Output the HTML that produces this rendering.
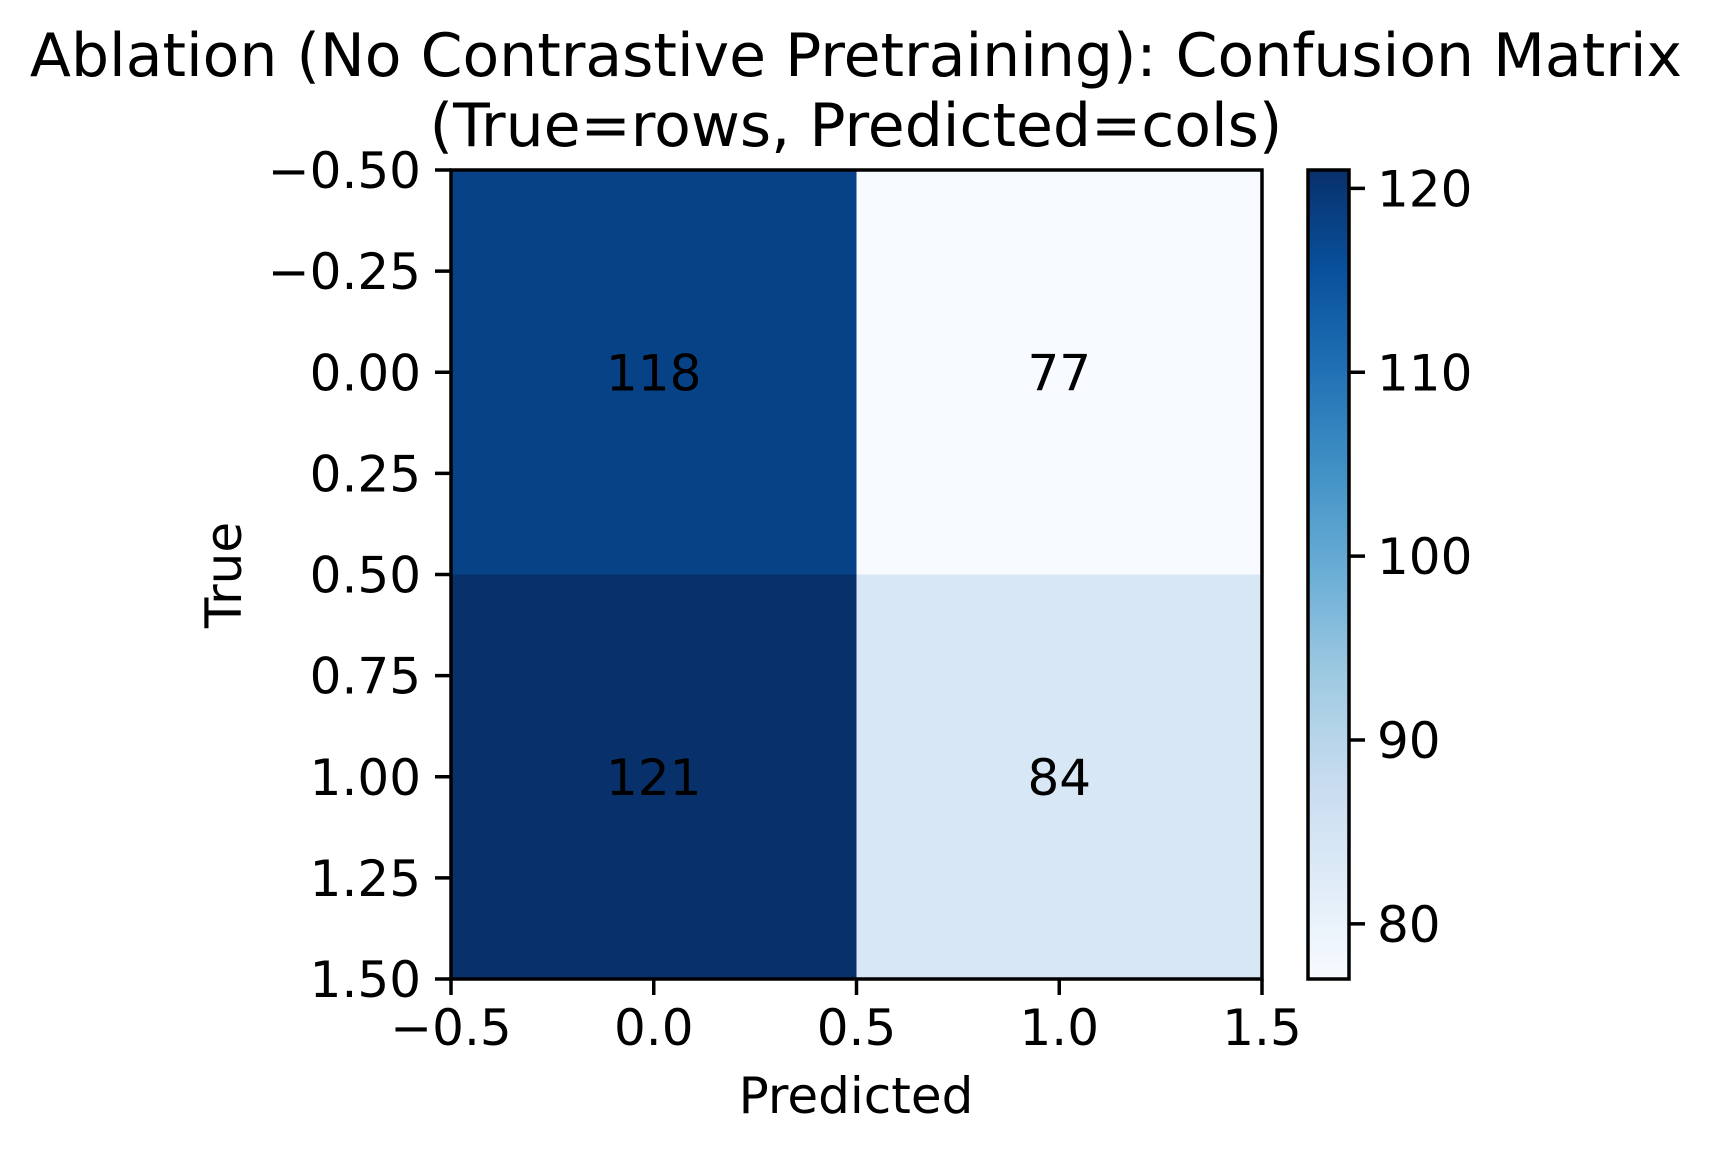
<!DOCTYPE html>
<html><head><meta charset="utf-8"><style>
html,body{margin:0;padding:0;background:#fff}
svg text{font-family:"DejaVu Sans","Liberation Sans",sans-serif;fill:#000}
</style></head><body>
<svg id="chart" width="1712" height="1152" viewBox="0 0 1712 1152" xmlns="http://www.w3.org/2000/svg">
<text x="856" y="76" font-size="60" text-anchor="middle">Ablation (No Contrastive Pretraining): Confusion Matrix</text>
<text x="856" y="146" font-size="60" text-anchor="middle">(True=rows, Predicted=cols)</text>
<text x="856" y="1113" font-size="50" text-anchor="middle">Predicted</text>
<text transform="translate(241,575) rotate(-90)" font-size="50" text-anchor="middle">True</text>
<g id="cells"></g>
<g id="axes"></g>
<defs><linearGradient id="cbgrad" x1="0" y1="1" x2="0" y2="0"></linearGradient></defs>
<g id="cbar"></g>
</svg>
<script>
const rowLabels = ["0", "1"];
const colLabels = ["0", "1"];
const matrix = [[118, 77], [121, 84]];
const xTicks = [-0.5, 0, 0.5, 1.0, 1.5];
const xTickLabels = ["\u22120.5", "0.0", "0.5", "1.0", "1.5"];
const yTicks = [-0.5, -0.25, 0, 0.25, 0.5, 0.75, 1.0, 1.25, 1.5];
const yTickLabels = ["\u22120.50", "\u22120.25", "0.00", "0.25", "0.50", "0.75", "1.00", "1.25", "1.50"];
const cbTicks = [80, 90, 100, 110, 120];

const NS = "http://www.w3.org/2000/svg";
const L = 451, R = 1262, T = 170, B = 979;
const CBL = 1308, CBR = 1349;
const flat = matrix.flat();
const vmin = Math.min(...flat), vmax = Math.max(...flat);
const xs = v => L + (v + 0.5) / colLabels.length * (R - L);
const ys = v => T + (v + 0.5) / rowLabels.length * (B - T);
const cy = v => B - (v - vmin) / (vmax - vmin) * (B - T);
const stops = ["#f7fbff","#deebf7","#c6dbef","#9ecae1","#6baed6","#4292c6","#2171b5","#08519c","#08306b"];
function hex(h){return [1,3,5].map(i=>parseInt(h.substr(i,2),16));}
function blues(t){
  t = Math.max(0, Math.min(1, t));
  const p = t * (stops.length - 1), i = Math.min(Math.floor(p), stops.length - 2), f = p - i;
  const a = hex(stops[i]), b = hex(stops[i+1]);
  return "rgb(" + a.map((c,k)=>Math.round(c + (b[k]-c)*f)).join(",") + ")";
}
function mk(tag, attrs, parent){
  const e = document.createElementNS(NS, tag);
  for (const k in attrs) e.setAttribute(k, attrs[k]);
  parent.appendChild(e); return e;
}
const cells = document.getElementById("cells");
matrix.forEach((row, r) => row.forEach((v, c) => {
  const rect = mk("rect", {x: xs(c-0.5), y: ys(r-0.5), width: xs(c+0.5)-xs(c-0.5), height: ys(r+0.5)-ys(r-0.5), fill: blues((v-vmin)/(vmax-vmin))}, cells);
  
  
  const t = mk("text", {x: xs(c), y: ys(r) + 18, "font-size": 50, "text-anchor": "middle"}, cells);
  
  
  t.textContent = v;
}));
const axes = document.getElementById("axes");
const frame = mk("rect", {x: L, y: T, width: R-L, height: B-T, fill: "none", stroke: "#000", "stroke-width": 3.5}, axes);


xTicks.forEach((v, i) => {
  const x = xs(v);
  const ln = mk("line", {x1: x, x2: x, y1: B, y2: B + 16, stroke: "#000", "stroke-width": 3.5}, axes);
  
  
  const t = mk("text", {x: x, y: B + 66, "font-size": 50, "text-anchor": "middle"}, axes);
  
  
  t.textContent = xTickLabels[i];
});
yTicks.forEach((v, i) => {
  const y = ys(v);
  const ln = mk("line", {x1: L - 16, x2: L, y1: y, y2: y, stroke: "#000", "stroke-width": 3.5}, axes);
  
  
  const t = mk("text", {x: L - 30, y: y + 18, "font-size": 50, "text-anchor": "end"}, axes);
  
  
  t.textContent = yTickLabels[i];
});
const grad = document.getElementById("cbgrad");
for (let i = 0; i <= 16; i++) mk("stop", {offset: (i/16), "stop-color": blues(i/16)}, grad);
const cbar = document.getElementById("cbar");
const cbr = mk("rect", {x: CBL, y: T, width: CBR-CBL, height: B-T, fill: "url(#cbgrad)", stroke: "#000", "stroke-width": 3.5}, cbar);


cbTicks.forEach(v => {
  const y = cy(v);
  const ln = mk("line", {x1: CBR, x2: CBR + 16, y1: y, y2: y, stroke: "#000", "stroke-width": 3.5}, cbar);
  
  
  const t = mk("text", {x: CBR + 28, y: y + 18, "font-size": 50}, cbar);
  
  
  t.textContent = v;
});
</script>
</body></html>
